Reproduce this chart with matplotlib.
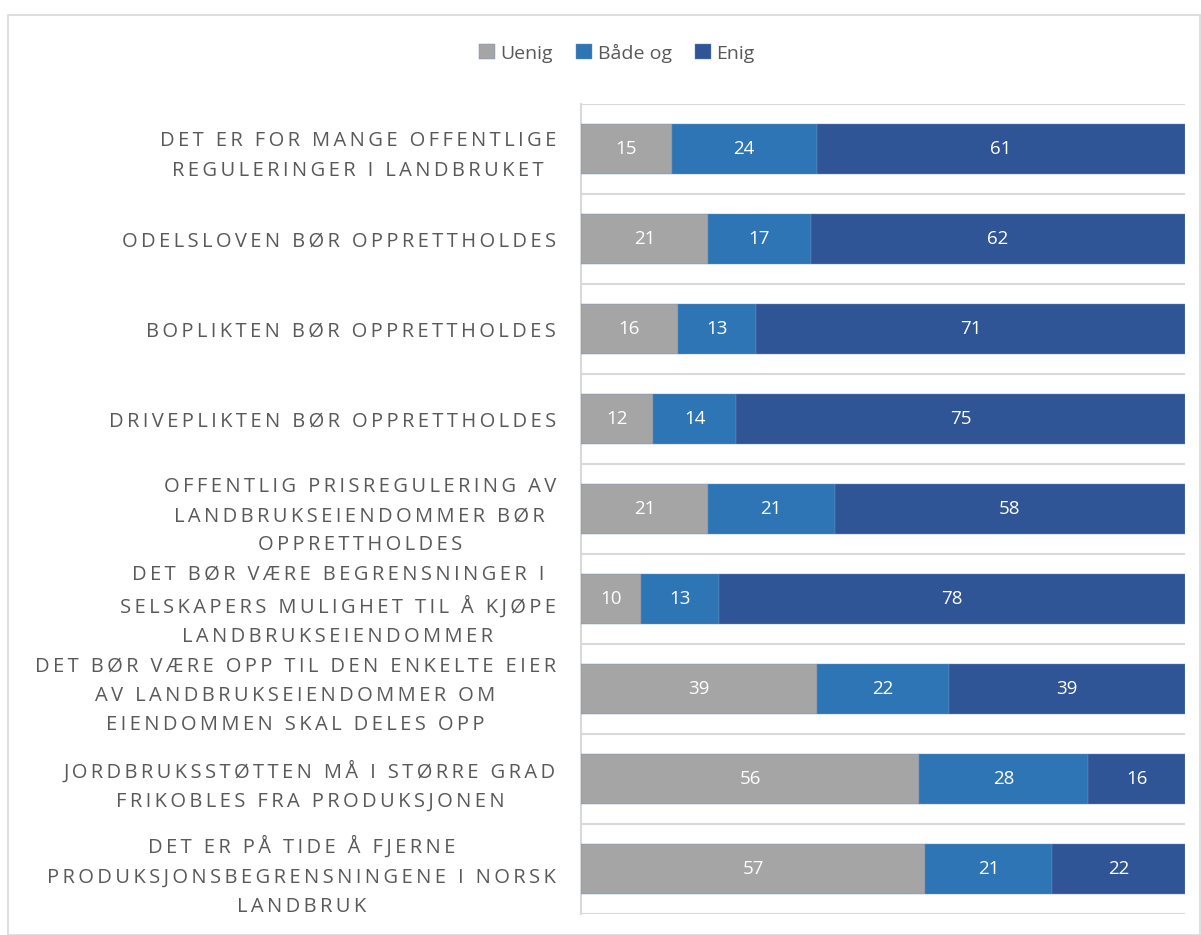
import matplotlib
matplotlib.use("Agg")
import matplotlib.pyplot as plt
from matplotlib.patches import Rectangle
import numpy as np

plt.rcParams['font.family'] = ['Open Sans', 'DejaVu Sans']

categories = [
    "DET ER FOR MANGE OFFENTLIGE\nREGULERINGER I LANDBRUKET",
    "ODELSLOVEN BØR OPPRETTHOLDES",
    "BOPLIKTEN BØR OPPRETTHOLDES",
    "DRIVEPLIKTEN BØR OPPRETTHOLDES",
    "OFFENTLIG PRISREGULERING AV\nLANDBRUKSEIENDOMMER BØR\nOPPRETTHOLDES",
    "DET BØR VÆRE BEGRENSNINGER I\nSELSKAPERS MULIGHET TIL Å KJØPE\nLANDBRUKSEIENDOMMER",
    "DET BØR VÆRE OPP TIL DEN ENKELTE EIER\nAV LANDBRUKSEIENDOMMER OM\nEIENDOMMEN SKAL DELES OPP",
    "JORDBRUKSSTØTTEN MÅ I STØRRE GRAD\nFRIKOBLES FRA PRODUKSJONEN",
    "DET ER PÅ TIDE Å FJERNE\nPRODUKSJONSBEGRENSNINGENE I NORSK\nLANDBRUK",
]
uenig = [15, 21, 16, 12, 21, 10, 39, 56, 57]
begge = [24, 17, 13, 14, 21, 13, 22, 28, 21]
enig = [61, 62, 71, 75, 58, 78, 39, 16, 22]
series_names = ["Uenig", "Både og", "Enig"]
colors = ["#A5A5A5", "#2E75B6", "#2F5597"]


def spaced(s):
    # imitate the wide letter spacing of the original labels
    return "\n".join("\u2009".join(line) for line in s.split("\n"))


fig = plt.figure(figsize=(12.01, 9.35), dpi=100)
ax = fig.add_axes([581 / 1201, 1 - 914 / 935, (1185 - 581) / 1201, (914 - 104) / 935])

# outer chart border
fig.patches.append(Rectangle((8 / 1201, 0), 1 - 8 / 1201 - 0.001, 1 - 14 / 935 - 0.001,
                             transform=fig.transFigure, fill=False,
                             edgecolor="#D9D9D9", linewidth=1.2))

data = np.array([uenig, begge, enig], dtype=float)
totals = data.sum(axis=0)
share = data / totals * 100  # 100 % stacked like the source

y = np.arange(len(categories))
left = np.zeros(len(categories))
bars = []
for i in range(3):
    b = ax.barh(y, share[i], left=left, height=0.556, color=colors[i],
                label=series_names[i], edgecolor="#6F8DBF", linewidth=0.3, zorder=3)
    for j in range(len(categories)):
        ax.text(left[j] + share[i][j] / 2, y[j], str(int(data[i][j])),
                ha="center", va="center", color="white", fontsize=13.5, zorder=4)
    left += share[i]
    bars.append(b)

ax.set_xlim(0, 100)
ax.set_ylim(len(categories) - 0.5, -0.5)

for g in np.arange(-0.5, len(categories), 1.0):
    ax.axhline(g, color="#D9D9D9", linewidth=1.5, zorder=1)

for s in ["top", "right", "bottom"]:
    ax.spines[s].set_visible(False)
ax.spines["left"].set_color("#D9D9D9")
ax.spines["left"].set_linewidth(1.5)
ax.set_xticks([])
ax.set_yticks(y)
ax.set_yticklabels([spaced(c) for c in categories], fontsize=14.5, color="#595959",
                   multialignment="center", linespacing=1.62)
ax.tick_params(axis="y", length=0, pad=18)

fig.legend(handles=bars, labels=series_names, loc="center", bbox_to_anchor=(617 / 1201, 1 - 53 / 935),
           ncol=3, frameon=False, fontsize=14, labelcolor="#595959",
           handlelength=0.8, handleheight=0.8, handletextpad=0.3, columnspacing=1.2)

fig.savefig("out.png", dpi=100)
